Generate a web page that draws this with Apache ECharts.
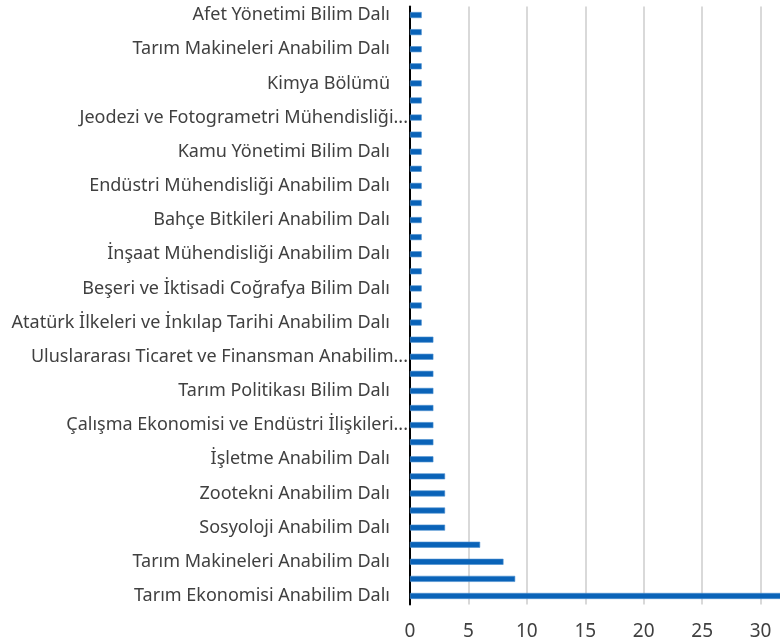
<!DOCTYPE html>
<html>
<head>
<meta charset="utf-8">
<script src="https://cdn.jsdelivr.net/npm/echarts@6/dist/echarts.min.js"></script>
<style>
  html, body { margin: 0; padding: 0; background: #fff; overflow: hidden; }
  #chart-container { width: 822px; height: 642px; }
</style>
</head>
<body>
<div id="chart-container"></div>
<script>
// categories listed bottom -> top
var categories = [
  "Tarım Ekonomisi Anabilim Dalı",
  "İktisat Anabilim Dalı",
  "Tarım Makineleri Anabilim Dalı",
  "Biyosistem Mühendisliği Anabilim Dalı",
  "Sosyoloji Anabilim Dalı",
  "Coğrafya Anabilim Dalı",
  "Zootekni Anabilim Dalı",
  "Toprak Bilimi ve Bitki Besleme Anabilim Dalı",
  "İşletme Anabilim Dalı",
  "Kamu Yönetimi Anabilim Dalı",
  "Çalışma Ekonomisi ve Endüstri İlişkileri Anabilim Dalı",
  "Tarla Bitkileri Anabilim Dalı",
  "Tarım Politikası Bilim Dalı",
  "Uluslararası İlişkiler Anabilim Dalı",
  "Uluslararası Ticaret ve Finansman Anabilim Dalı",
  "Ekonometri Anabilim Dalı",
  "Atatürk İlkeleri ve İnkılap Tarihi Anabilim Dalı",
  "Tarih Anabilim Dalı",
  "Beşeri ve İktisadi Coğrafya Bilim Dalı",
  "Maliye Anabilim Dalı",
  "İnşaat Mühendisliği Anabilim Dalı",
  "Gıda Mühendisliği Anabilim Dalı",
  "Bahçe Bitkileri Anabilim Dalı",
  "Bitki Koruma Anabilim Dalı",
  "Endüstri Mühendisliği Anabilim Dalı",
  "Çevre Mühendisliği Anabilim Dalı",
  "Kamu Yönetimi Bilim Dalı",
  "Siyaset Bilimi Anabilim Dalı",
  "Jeodezi ve Fotogrametri Mühendisliği Anabilim Dalı",
  "Harita Mühendisliği Anabilim Dalı",
  "Kimya Bölümü",
  "Matematik Bölümü",
  "Tarım Makineleri Anabilim Dalı",
  "Kent ve Bölge Planlaması Anabilim Dalı",
  "Afet Yönetimi Bilim Dalı"
];
var counts = [32, 9, 8, 6, 3, 3, 3, 3, 2, 2, 2, 2, 2, 2, 2, 2,
  1, 1, 1, 1, 1, 1, 1, 1, 1, 1, 1, 1, 1, 1, 1, 1, 1, 1, 1];
var xTicks = [0, 5, 10, 15, 20, 25, 30, 35];

var labelFont = "18px 'Noto Sans'";
var ctx = document.createElement("canvas").getContext("2d");
ctx.font = labelFont;
function textWidth(s) {
  return ctx.measureText(s).width;
}

// Excel style: long names are cut at a word and get "..."
function categoryLabel(name) {
  if (textWidth(name) <= 382) return "{n|" + name + "}";
  var words = name.split(" ");
  while (words.length > 1 && textWidth(words.join(" ") + "...") > 392) {
    words.pop();
  }
  return "{t|" + words.join(" ") + "...}";
}

var dom = document.getElementById("chart-container");
var myChart = echarts.init(dom, null, { renderer: "canvas" });

// chart is wider than the window: the 30-35 range is cut off on the right
var option = {
  animation: false,
  backgroundColor: "#fff",
  grid: { left: 410, right: 0, top: 6.5, bottom: 37.5, containLabel: false },
  xAxis: {
    type: "value",
    min: xTicks[0],
    max: xTicks[xTicks.length - 1],
    interval: 5,
    axisLine: { show: false },
    axisTick: { show: false },
    splitLine: { show: true, lineStyle: { color: "#d9d9d9", width: 2 } },
    axisLabel: {
      color: "#404040",
      fontFamily: "Noto Sans",
      fontSize: 19,
      margin: 18,
      formatter: function (v) {
        return v === 35 ? "" : String(v);
      }
    }
  },
  yAxis: {
    type: "category",
    data: categories,
    axisTick: { show: false },
    axisLine: { show: true, lineStyle: { color: "#000", width: 2 } },
    axisLabel: {
      interval: 1,
      color: "#404040",
      fontFamily: "Noto Sans",
      fontSize: 18,
      margin: 2,
      formatter: categoryLabel,
      rich: {
        n: { color: "#404040", fontFamily: "Noto Sans", fontSize: 18, padding: [0, 18, 0, 0] },
        t: { color: "#404040", fontFamily: "Noto Sans", fontSize: 18 }
      }
    }
  },
  series: [
    {
      type: "bar",
      data: counts,
      barWidth: 6,
      itemStyle: { color: "#0a63b8", borderColor: "#4a8fd0", borderWidth: 0.6 }
    }
  ]
};

myChart.setOption(option);
window.addEventListener("resize", myChart.resize);
</script>
</body>
</html>
